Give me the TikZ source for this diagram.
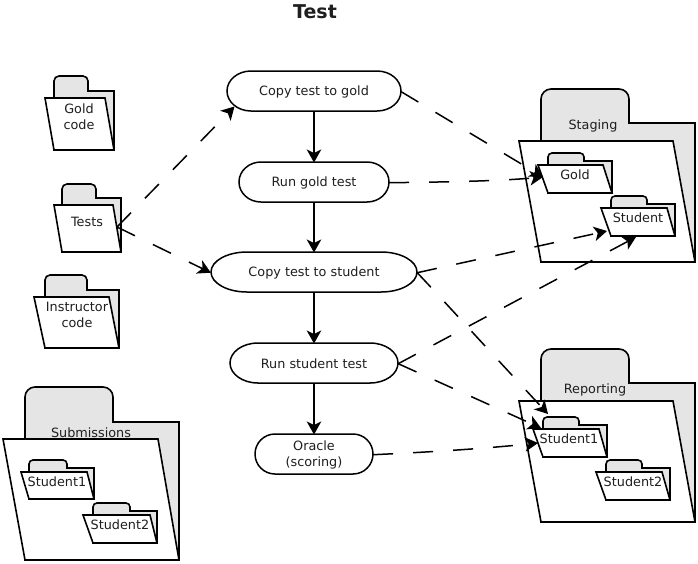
\documentclass[tikz,border=0pt]{standalone}
\usepackage{fontspec}
\setmainfont{DejaVu Sans}
\usetikzlibrary{arrows.meta}
\tikzset{
  x=1pt,y=-1pt,
  lbl/.style={font=\fontsize{12.8}{16}\selectfont,text=black!88,align=center,inner sep=0pt},
  step box/.style={rectangle,inner sep=0pt,minimum height=40pt,lbl,yshift=-0.7pt},
  step outline/.style={draw=black,line width=1.5pt,fill=white},
  flow/.style={-{Stealth[length=13pt,width=14.5pt,inset=3.5pt]},line width=1.5pt,black},
  dep/.style={-{Stealth[length=13pt,width=14.5pt,inset=3.5pt]},line width=1.5pt,black,dash pattern=on 20pt off 20pt},
  folderback/.style={draw=black,line width=1.6pt,fill=black!10},
  folderfront/.style={draw=black,line width=1.6pt,fill=white},
}
% L T TR TB R B FT FL FR; corner radius in \fr
\def\fr{4}
\newcommand{\folderpic}[9]{%
  \draw[folderback] ({#1},{#7}) -- ({#1},{#2+\fr}) arc[start angle=180,end angle=90,radius=\fr pt]
    -- ({#3-\fr},{#2}) arc[start angle=90,end angle=0,radius=\fr pt]
    -- ({#3},{#4}) -- ({#5},{#4}) -- ({#5},{#6}) -- ({#1},{#6}) -- cycle;
  \draw[folderfront] ({#8},{#7}) -- ({#9},{#7}) -- ({#5},{#6}) -- ({#1},{#6}) -- cycle;
}
% name cx cy width rx text
\newcommand{\stepnode}[6]{%
  \draw[step outline] ({#2-#4/2+#5},{#3-20}) arc[start angle=90,end angle=270,x radius=#5 pt,y radius=20pt]
    -- ({#2+#4/2-#5},{#3+20}) arc[start angle=-90,end angle=90,x radius=#5 pt,y radius=20pt] -- cycle;
  \node[step box,minimum width=#4 pt] (#1) at (#2,#3) {#6};
}
\begin{document}
\begin{tikzpicture}
\useasboundingbox (0,0) rectangle (698,563);
\node[font=\bfseries\fontsize{19}{20}\selectfont,text=black!88] (title) at (315,12) {Test};
% left folders
\def\fr{5}
\folderpic{54}{76}{88}{91}{114}{150}{98}{45}{105}
\node[lbl] (goldcode) at (79,117) {Gold\\code};
\folderpic{62}{184}{96}{198}{121}{252}{205}{54}{113}
\node[lbl] (tests) at (87,222) {Tests};
\folderpic{45}{275}{87}{290}{119}{348}{297}{34}{109}
\node[lbl] (instr) at (77,315) {Instructor\\code};
\def\fr{10}
\folderpic{25}{387}{113}{422}{179}{560}{439}{3}{158}
\node[lbl] (subm) at (91,433) {Submissions};
\def\fr{4}
\folderpic{29}{460}{67}{468}{94}{499}{472}{21}{87}
\node[lbl] (s1) at (57,482) {Student1};
\folderpic{93}{503}{130}{511}{157}{543}{515}{83}{150}
\node[lbl] (s2) at (120,525) {Student2};
% right folders
\def\fr{10}
\folderpic{541}{89}{629}{123}{695}{262}{141}{519}{673}
\node[lbl] (staging) at (593,126) {Staging};
\def\fr{4}
\folderpic{548}{153}{584}{161}{612}{193}{165}{538}{603}
\node[lbl] (gold) at (575,175) {Gold};
\folderpic{611}{196}{647}{204}{675}{236}{208}{601}{667}
\node[lbl] (student) at (638,218) {Student};
\def\fr{10}
\folderpic{541}{349}{629}{383}{695}{522}{401}{519}{673}
\node[lbl] (reporting) at (595,390) {Reporting};
\def\fr{4}
\folderpic{543}{417}{579}{425}{607}{457}{429}{533}{599}
\node[lbl] (r1) at (569,439) {Student1};
\folderpic{606}{460}{642}{468}{670}{500}{472}{596}{662}
\node[lbl] (r2) at (633,482) {Student2};
% steps
\stepnode{a}{314}{91}{174}{24}{Copy test to gold}
\stepnode{b}{314}{182}{150}{22}{Run gold test}
\stepnode{c}{314}{272}{206}{36}{Copy test to student}
\stepnode{d}{314}{363}{168}{28}{Run student test}
\stepnode{e}{314}{454}{118}{20}{Oracle\\(scoring)}
\draw[flow] (a) -- (b);
\draw[flow] (b) -- (c);
\draw[flow] (c) -- (d);
\draw[flow] (d) -- (e);
% connector ends
\coordinate (testsout) at (117,227);
\coordinate (goldin) at (543,177);
\coordinate (studin) at (607,231);
\coordinate (studin2) at (636,237);
\coordinate (r1a) at (548,414);
\coordinate (r1b) at (541,428);
\coordinate (r1c) at (538,443);
\draw[dep] (testsout) -- (234.5,106.5);
\draw[dep] (testsout) -- (c.west);
\draw[dep] (a.east) -- (goldin);
\draw[dep] (b.east) .. controls (450,182) and (500,181) .. (goldin);
\draw[dep] (c.east) -- (studin);
\draw[dep] (c.east) .. controls (445,302) and (470,330) .. (r1a);
\draw[dep] (d.east) -- (studin2);
\draw[dep] (d.east) -- (r1b);
\draw[dep] (e.east) .. controls (430,452) and (480,449) .. (r1c);
\end{tikzpicture}
\end{document}
